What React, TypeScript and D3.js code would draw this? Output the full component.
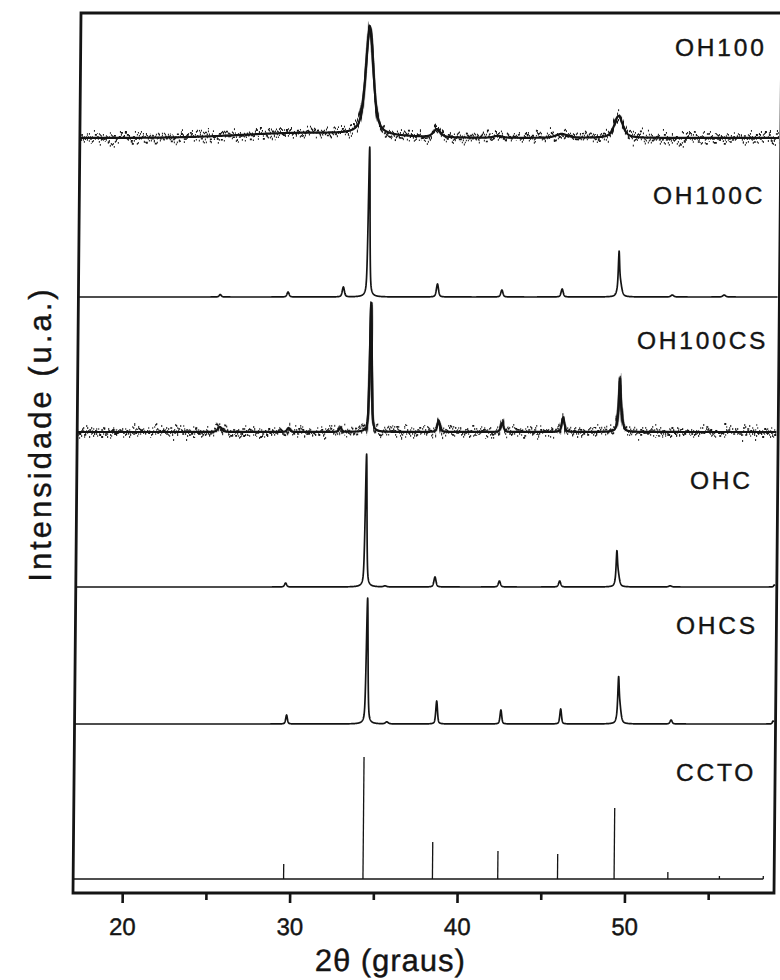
import React from "react";
import * as d3 from "d3";

// Diffraction peaks per sample: [2θ (°), height (a.u.), FWHM (°), lorentz fraction]
const OH100_PEAKS: number[][] = [
  [30.5, 5, 9, 0],
  [34.3, 108, 0.55, 0.6],
  [38.35, 8, 0.5, 0.5],
  [42.0, 2, 0.6, 0.5],
  [45.8, 4, 0.8, 0.5],
  [49.2, 22, 0.6, 0.6],
];

const OH100C_PEAKS: number[][] = [
  [25.5, 2.5, 0.15, 0.5],
  [29.55, 5, 0.15, 0.5],
  [32.85, 10, 0.15, 0.5],
  [34.35, 150, 0.12, 0.5],
  [38.47, 13, 0.15, 0.5],
  [42.32, 7, 0.15, 0.5],
  [45.92, 8, 0.15, 0.5],
  [49.3, 30, 0.08, 0.5],
  [49.35, 18, 0.25, 0.5],
  [52.5, 2, 0.2, 0.5],
  [55.6, 2, 0.2, 0.5],
];

const OH100CS_PEAKS: number[][] = [
  [25.55, 5, 0.3, 0.5],
  [29.65, 4, 0.2, 0.5],
  [32.75, 4, 0.2, 0.5],
  [34.53, 130, 0.14, 0.5],
  [38.62, 11, 0.2, 0.5],
  [42.41, 9, 0.2, 0.5],
  [46.05, 14, 0.2, 0.5],
  [49.42, 30, 0.1, 0.5],
  [49.45, 25, 0.28, 0.5],
];

const OHC_PEAKS: number[][] = [
  [29.56, 4, 0.15, 0.5],
  [34.33, 133, 0.12, 0.5],
  [35.5, 1, 0.2, 0.5],
  [38.48, 10, 0.15, 0.5],
  [42.33, 6, 0.15, 0.5],
  [45.93, 6, 0.15, 0.5],
  [49.33, 22, 0.08, 0.5],
  [49.38, 17, 0.22, 0.5],
  [52.53, 1.2, 0.2, 0.5],
  [58.75, 2, 0.1, 0.5],
];

const OHCS_PEAKS: number[][] = [
  [29.69, 9, 0.12, 0.5],
  [34.47, 126, 0.12, 0.5],
  [35.68, 2, 0.2, 0.5],
  [38.65, 23, 0.12, 0.5],
  [42.49, 14, 0.12, 0.5],
  [46.06, 15, 0.12, 0.5],
  [49.5, 28, 0.08, 0.5],
  [49.55, 23, 0.22, 0.5],
  [52.66, 4, 0.15, 0.5],
  [58.75, 3, 0.1, 0.5],
];

// Reference pattern (CCTO): stick positions and relative intensities
const CCTO_POS = [29.6, 34.34, 38.49, 42.39, 45.96, 49.34, 52.55, 55.63, 58.25];
const CCTO_INT = [15, 122, 37, 28, 25, 71, 7, 3, 3];

const SAMPLE_NAMES = ["OH100", "OH100C", "OH100CS", "OHC", "OHCS"];
const SAMPLE_PEAKS = [OH100_PEAKS, OH100C_PEAKS, OH100CS_PEAKS, OHC_PEAKS, OHCS_PEAKS];
const SAMPLE_OFFSETS = [755, 596, 461, 306, 169];
const SAMPLE_NOISY = [true, false, true, false, false];
const CCTO_NAME = "CCTO";
const CCTO_OFFSET = 14;

const MAJOR_TICKS = [20, 30, 40, 50];
const MINOR_TICKS = [25, 35, 45, 55];

// layout
const W = 780;
const H = 980;
const LEFT = 73;
const RIGHT = 774;
const TOP = 13;
const BOTTOM = 893;
const SHEAR = 8 / 880;
const FONT = "'Liberation Sans', Arial, Helvetica, sans-serif";
const INK = "#141414";

const LABEL_SPOTS = [
  [675, 56],
  [653, 204],
  [637, 349],
  [690, 489],
  [676, 634],
  [676, 781],
];

const x = d3.scaleLinear().domain([17.03, 58.9]).range([LEFT, RIGHT]);
const y = d3.scaleLinear().domain([0, 880]).range([BOTTOM, TOP]);

function profile(peaks: number[][], at: number) {
  let s = 0;
  for (const [c, h, w, eta] of peaks) {
    const u = (at - c) / w;
    const lor = 1 / (1 + 4 * u * u);
    const gau = Math.exp(-4 * Math.LN2 * u * u);
    s += h * (eta * lor + (1 - eta) * gau);
  }
  return s;
}

const grid = d3.range(17.05, 58.8, 0.01);

const line = d3
  .line<[number, number]>()
  .x((d) => x(d[0]))
  .y((d) => y(d[1]));

const textStyle = {
  fontFamily: FONT,
  fill: INK,
  stroke: INK,
  strokeWidth: 0.4,
};

export default function App() {
  const traces = SAMPLE_PEAKS.map((peaks, i) =>
    line(grid.map((t) => [t, SAMPLE_OFFSETS[i] + profile(peaks, t)] as [number, number]))
  );

  return (
    <svg
      width={W}
      height={H}
      viewBox={`0 0 ${W} ${H}`}
      style={{ position: "absolute", left: 0, top: 0, background: "#fff" }}
    >
      <defs>
        {/* counting-noise texture: vertical-only jitter of the stroke, column by column */}
        <filter
          id="grain"
          x="-2%"
          y="-40%"
          width="104%"
          height="180%"
          colorInterpolationFilters="sRGB"
        >
          <feTurbulence type="fractalNoise" baseFrequency="0.45 0.004" numOctaves="3" seed="11" result="t" />
          <feColorMatrix
            in="t"
            type="matrix"
            values="0 0 0 0 0.5  0 1 0 0 0  0 0 0 0 0  0 0 0 0 1"
            result="v"
          />
          <feDisplacementMap in="SourceGraphic" in2="v" scale="26" xChannelSelector="R" yChannelSelector="G" />
        </filter>
        <filter
          id="grain2"
          x="-2%"
          y="-40%"
          width="104%"
          height="180%"
          colorInterpolationFilters="sRGB"
        >
          <feTurbulence type="fractalNoise" baseFrequency="0.6 0.004" numOctaves="2" seed="4" result="t" />
          <feColorMatrix
            in="t"
            type="matrix"
            values="0 0 0 0 0.5  0 1 0 0 0  0 0 0 0 0  0 0 0 0 1"
            result="v"
          />
          <feDisplacementMap in="SourceGraphic" in2="v" scale="20" xChannelSelector="R" yChannelSelector="G" />
        </filter>
      </defs>
      <rect x={0} y={0} width={W} height={H} fill="#fff" />
      <g transform={`matrix(1,0,${-SHEAR},1,${SHEAR * BOTTOM},0)`}>
        {traces.map((d, i) =>
          SAMPLE_NOISY[i] ? (
            <g key={i}>
              <path d={d ?? ""} fill="none" stroke={INK} strokeWidth={2.2} />
              <path d={d ?? ""} fill="none" stroke={INK} strokeWidth={1.8} filter="url(#grain)" />
              <path d={d ?? ""} fill="none" stroke={INK} strokeWidth={1.6} filter="url(#grain2)" />
            </g>
          ) : (
            <path key={i} d={d ?? ""} fill="none" stroke={INK} strokeWidth={1.7} strokeLinejoin="round" />
          )
        )}
        {/* reference stick pattern */}
        <line
          x1={x(17.05)}
          x2={x(CCTO_POS[CCTO_POS.length - 1])}
          y1={y(CCTO_OFFSET)}
          y2={y(CCTO_OFFSET)}
          stroke={INK}
          strokeWidth={1.5}
        />
        {CCTO_POS.map((p, i) => (
          <line
            key={i}
            x1={x(p)}
            x2={x(p)}
            y1={y(CCTO_OFFSET)}
            y2={y(CCTO_OFFSET + CCTO_INT[i])}
            stroke={INK}
            strokeWidth={1.3}
          />
        ))}
        <rect
          x={LEFT}
          y={TOP}
          width={RIGHT - LEFT}
          height={BOTTOM - TOP}
          fill="none"
          stroke={INK}
          strokeWidth={2.8}
        />
        {MAJOR_TICKS.map((t) => (
          <g key={t}>
            <line x1={x(t)} x2={x(t)} y1={BOTTOM} y2={BOTTOM + 10} stroke={INK} strokeWidth={2.6} />
            <text x={x(t)} y={935} textAnchor="middle" fontSize={24} {...textStyle}>
              {t}
            </text>
          </g>
        ))}
        {MINOR_TICKS.map((t) => (
          <line key={t} x1={x(t)} x2={x(t)} y1={BOTTOM} y2={BOTTOM + 7} stroke={INK} strokeWidth={2.6} />
        ))}
        <text x={391} y={971} textAnchor="middle" fontSize={31} letterSpacing={1} {...textStyle}>
          2θ (graus)
        </text>
      </g>
      <text
        transform={`translate(51,434) rotate(-90)`}
        textAnchor="middle"
        fontSize={31}
        letterSpacing={3}
        {...textStyle}
      >
        Intensidade (u.a.)
      </text>
      {[...SAMPLE_NAMES, CCTO_NAME].map((name, i) => (
        <text
          key={name}
          x={LABEL_SPOTS[i][0]}
          y={LABEL_SPOTS[i][1]}
          fontSize={24.5}
          letterSpacing={2.8}
          {...textStyle}
        >
          {name}
        </text>
      ))}
    </svg>
  );
}
